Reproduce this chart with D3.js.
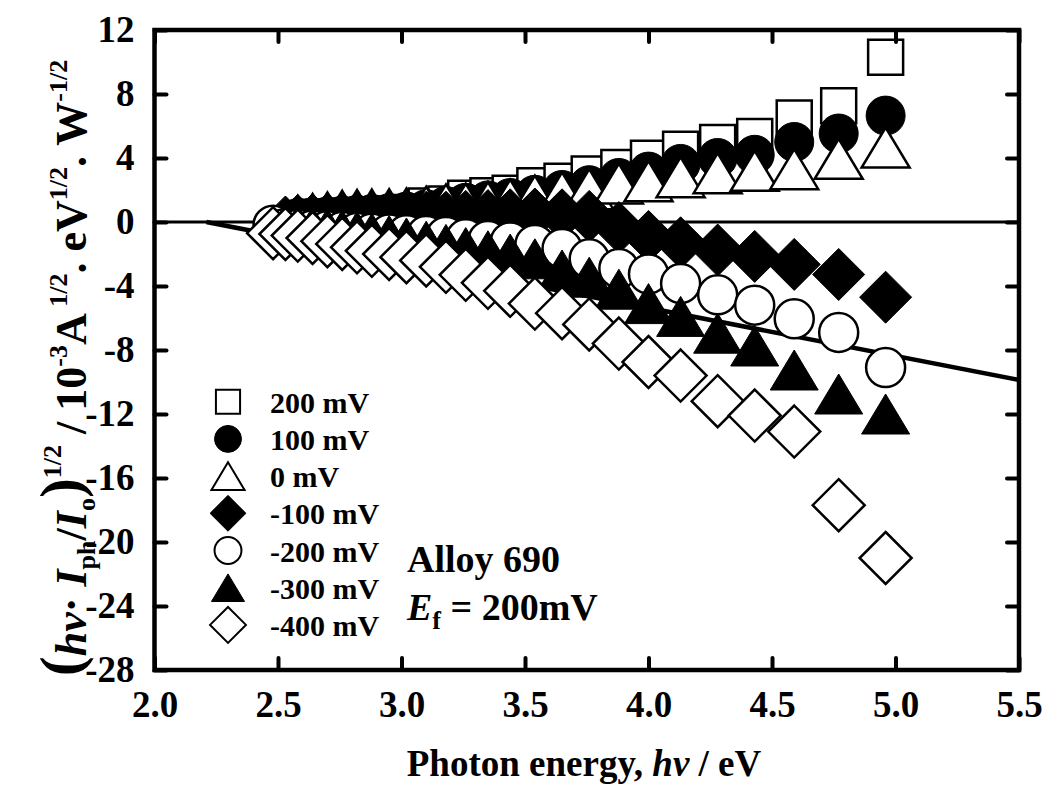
<!DOCTYPE html>
<meta charset="utf-8">
<style>
  body { margin: 0; background: #fff; }
  svg text { font-family: "Liberation Serif", "Times New Roman", serif; font-weight: bold; fill: #000; }
</style>
<body>
<script src="https://cdn.jsdelivr.net/npm/d3@7"></script>
<script>

// Photon energies (eV), shared by every series
const energy = [2.48, 2.53, 2.58, 2.64, 2.70, 2.76, 2.82, 2.88, 2.95, 3.02, 3.10, 3.18, 3.26,
                3.35, 3.44, 3.54, 3.65, 3.76, 3.88, 4.00, 4.13, 4.28, 4.43, 4.59, 4.77, 4.96];

// (hv.Iph/I0)^1/2 values for each film potential (null = no point)
const v200  = [null, null, null, 0.30, 0.33, 0.36, 0.40, 0.45, 0.50, 0.60, 1.00, 1.12, 1.49,
               1.64, 1.79, 2.26, 2.55, 3.00, 3.40, 3.99, 4.55, 4.97, 5.35, 6.50, 7.26, 10.29];
const v100  = [null, null, 0.25, 0.30, 0.35, 0.40, 0.45, 0.50, 0.55, 0.65, 0.80, 1.00, 1.20,
               1.35, 1.50, 1.70, 2.00, 2.30, 2.75, 3.15, 3.63, 4.00, 4.20, 5.00, 5.53, 6.65];
const v0    = [null, null, 0.40, 0.50, 0.60, 0.70, 0.75, 0.78, 0.80, 0.85, 0.95, 1.10, 1.15,
               1.25, 1.40, 1.65, 1.85, 2.05, 2.40, 2.55, 2.80, 3.05, 3.20, 3.30, 3.95, 4.65];
const vm100 = [null, 0.00, 0.10, 0.15, 0.20, 0.25, 0.30, 0.30, 0.30, 0.30, 0.30, 0.30, 0.35,
               0.40, 0.45, 0.50, 0.45, 0.35, -0.35, -0.90, -1.30, -1.75, -2.15, -2.65, -3.28, -4.70];
const vm200 = [-0.20, -0.40, -0.45, -0.50, -0.55, -0.60, -0.65, -0.70, -0.75, -0.80, -0.85, -0.90, -1.05,
               -1.15, -1.25, -1.40, -1.65, -2.30, -2.90, -3.25, -3.85, -4.55, -5.20, -6.05, -6.90, -9.10];
const vm300 = [null, -0.10, -0.20, -0.30, -0.40, -0.50, -0.60, -0.70, -0.85, -1.00, -1.20, -1.40, -1.60,
               -1.80, -2.00, -2.30, -3.00, -3.45, -4.20, -5.10, -5.90, -6.95, -7.75, -9.25, -10.75, -12.00];
const vm400 = [-0.70, -0.75, -0.85, -1.00, -1.20, -1.37, -1.58, -1.80, -2.00, -2.20, -2.40, -2.80, -3.30,
               -3.80, -4.30, -5.10, -5.70, -6.40, -7.60, -8.75, -9.60, -11.20, -12.10, -13.10, -17.70, -21.00];

const labels = ["200 mV", "100 mV", "0 mV", "-100 mV", "-200 mV", "-300 mV", "-400 mV"];

// straight fitted line and the zero line
const fitX = [2.21, 5.5], fitY = [0, -9.87];
const zeroX = [2.0, 5.5], zeroY = [0, 0];

const xTicks = [2.0, 2.5, 3.0, 3.5, 4.0, 4.5, 5.0, 5.5];
const yTicks = [12, 8, 4, 0, -4, -8, -12, -16, -20, -24, -28];

const series = [
  {label: labels[0], values: v200,  shape: "square",   filled: false},
  {label: labels[1], values: v100,  shape: "circle",   filled: true},
  {label: labels[2], values: v0,    shape: "triangle", filled: false},
  {label: labels[3], values: vm100, shape: "diamond",  filled: true},
  {label: labels[4], values: vm200, shape: "circle",   filled: false},
  {label: labels[5], values: vm300, shape: "triangle", filled: true},
  {label: labels[6], values: vm400, shape: "diamond",  filled: false}
];

const W = 1048, H = 787;
const plotL = 154.5, plotR = 1019, plotT = 30, plotB = 670;

const x = d3.scaleLinear().domain([2.0, 5.5]).range([plotL, plotR]);
const y = d3.scaleLinear().domain([-28, 12]).range([plotB, plotT]);

const svg = d3.select("body").append("svg")
    .attr("width", W)
    .attr("height", H);

// marker outlines, centred on the point; k scales them down for the legend
function marker(shape, k) {
  const p = d3.path();
  if (shape === "square") {
    const s = 35 * k / 2;
    p.rect(-s, -s, 2 * s, 2 * s);
  } else if (shape === "circle") {
    const r = 19.5 * k;
    p.moveTo(r, 0);
    p.arc(0, 0, r, 0, 2 * Math.PI);
  } else if (shape === "triangle") {
    const w = 48 * k / 2, h = 40 * k / 2;
    p.moveTo(0, -h); p.lineTo(w, h); p.lineTo(-w, h); p.closePath();
  } else {
    const w = 26 * k, h = 26 * k;
    p.moveTo(0, -h); p.lineTo(w, 0); p.lineTo(0, h); p.lineTo(-w, 0); p.closePath();
  }
  return p.toString();
}

// zero line and fit line
const line = d3.line().x(d => x(d[0])).y(d => y(d[1]));
svg.append("path")
    .attr("d", line(d3.zip(zeroX, zeroY)))
    .attr("fill", "none").attr("stroke", "#000").attr("stroke-width", 3);
svg.append("path")
    .attr("d", line(d3.zip(fitX, fitY)))
    .attr("fill", "none").attr("stroke", "#000").attr("stroke-width", 4.5);

// data points, drawn series after series
series.forEach(function(s) {
  const pts = energy.map((e, i) => [e, s.values[i]]).filter(d => d[1] !== null);
  svg.append("g").selectAll("path").data(pts).enter()
    .append("path")
      .attr("transform", d => "translate(" + x(d[0]) + "," + y(d[1]) + ")")
      .attr("d", marker(s.shape, 1))
      .attr("fill", s.filled ? "#000" : "#fff")
      .attr("stroke", "#000")
      .attr("stroke-width", s.filled ? 1 : 2.5)
      .attr("stroke-linejoin", "miter");
});

// axes: inward ticks on all four sides
function styleAxis(g) {
  g.select(".domain").remove();
  g.selectAll(".tick line").attr("stroke-width", 4).attr("stroke-linecap", "round");
  g.selectAll(".tick text")
    .attr("fill", "#000")
    .style("font-size", "37px")
    .style("font-family", "'Liberation Serif', serif")
    .style("font-weight", "bold");
}

svg.append("g")
    .attr("transform", "translate(0," + plotB + ")")
    .call(d3.axisBottom(x).tickValues(xTicks).tickSize(-12).tickPadding(21)
      .tickFormat(d3.format(".1f")))
    .call(styleAxis);
svg.append("g")
    .attr("transform", "translate(0," + plotT + ")")
    .call(d3.axisTop(x).tickValues(xTicks).tickSize(-12).tickFormat(""))
    .call(styleAxis);
svg.append("g")
    .attr("transform", "translate(" + plotL + ",0)")
    .call(d3.axisLeft(y).tickValues(yTicks).tickSize(-12).tickPadding(20)
      .tickFormat(d => String(d)))
    .call(styleAxis);
svg.append("g")
    .attr("transform", "translate(" + plotR + ",0)")
    .call(d3.axisRight(y).tickValues(yTicks).tickSize(-12).tickFormat(""))
    .call(styleAxis);

// frame
svg.append("rect")
    .attr("x", plotL).attr("y", plotT)
    .attr("width", plotR - plotL).attr("height", plotB - plotT)
    .attr("fill", "none").attr("stroke", "#000").attr("stroke-width", 4.5);

// helper for text with super/subscripts
function rich(t, parts) {
  let shift = 0;
  parts.forEach(function(p) {
    const target = p.shift || 0;
    t.append("tspan")
      .attr("dy", target - shift)
      .style("font-size", p.size + "px")
      .style("font-style", p.italic ? "italic" : "normal")
      .text(p.t);
    shift = target;
  });
}

// x axis title
rich(svg.append("text").attr("x", 584).attr("y", 776).attr("text-anchor", "middle"), [
  {t: "Photon energy, ", size: 37},
  {t: "hv", size: 37, italic: true},
  {t: " / eV", size: 37}
]);

// y axis title
rich(svg.append("text")
    .attr("transform", "translate(86,368) rotate(-90)")
    .attr("text-anchor", "middle"), [
  {t: "(", size: 60, shift: -5},
  {t: "hv", size: 44, italic: true},
  {t: "· ", size: 44},
  {t: "I", size: 44, italic: true},
  {t: "ph", size: 26, shift: 9},
  {t: "/", size: 44},
  {t: "I", size: 44, italic: true},
  {t: "o", size: 26, shift: 9},
  {t: ")", size: 60, shift: -5},
  {t: "1/2", size: 26, shift: -25},
  {t: " / 10", size: 44},
  {t: "-3", size: 26, shift: -19},
  {t: "A", size: 44},
  {t: " 1/2", size: 26, shift: -19},
  {t: ".  eV", size: 44},
  {t: "1/2", size: 26, shift: -19},
  {t: ".  W", size: 44},
  {t: "-1/2", size: 26, shift: -19}
]);

// legend
const legend = svg.append("g").attr("class", "legend");
series.forEach(function(s, i) {
  const ly = 401.7 + i * 37.2;
  legend.append("path")
    .attr("transform", "translate(228," + ly + ")")
    .attr("d", marker(s.shape, 0.69))
    .attr("fill", s.filled ? "#000" : "#fff")
    .attr("stroke", "#000")
    .attr("stroke-width", s.filled ? 1 : 2);
  legend.append("text")
    .attr("x", 270).attr("y", ly + 11)
    .style("font-size", "30px")
    .text(s.label);
});

// annotation
svg.append("text").attr("x", 407).attr("y", 572).style("font-size", "38px").text("Alloy 690");
rich(svg.append("text").attr("x", 407).attr("y", 620), [
  {t: "E", size: 38, italic: true},
  {t: "f", size: 26, shift: 9},
  {t: " = 200mV", size: 38}
]);

</script>
</body>
